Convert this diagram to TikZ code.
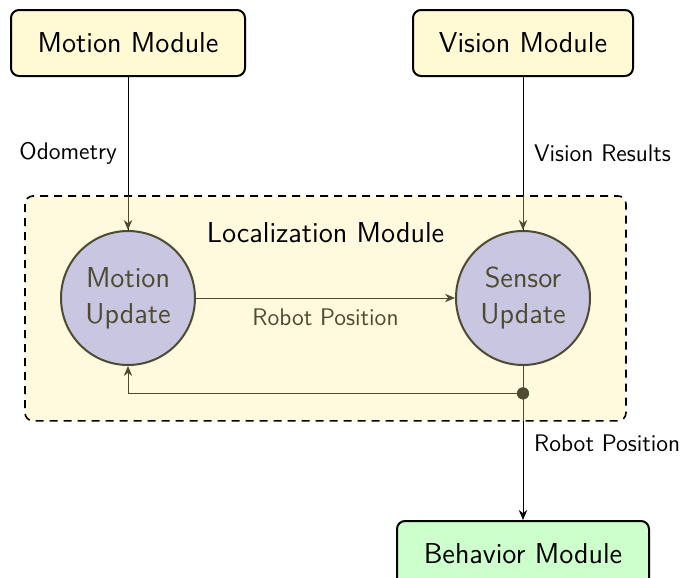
\documentclass[tikz,border=0pt]{standalone}
\RequirePackage{xcolor}
\definecolor{modyellow}{RGB}{255,249,212}
\definecolor{locyellow}{RGB}{255,250,222}
\definecolor{updlilac}{RGB}{200,198,224}
\definecolor{locolive}{RGB}{78,75,50}
\definecolor{modgreen}{RGB}{204,255,204}
\tikzset{every picture/.style={/utils/exec={\sffamily}}}
\usetikzlibrary{calc}
\usetikzlibrary{positioning}
\usetikzlibrary{backgrounds}
\usetikzlibrary{arrows.meta}
\tikzset{node distance=76.5pt, % Gap between the outer modules and the updates
  every node/.style={align=center},
         module/.style={ % Sets the properties for each outer module
           draw, line width=1pt, rounded corners=4pt,
           fill=modyellow, font=\Large,
           minimum height=33pt},
         update/.style={ % Steps inside the localization module
           circle, draw=locolive, text=locolive, line width=1pt,
           fill=updlilac, font=\Large,
           minimum size=67pt, inner sep=1pt},
         junction/.style={circle, fill=locolive, inner sep=0pt, minimum size=6pt},
         locbox/.style={draw, line width=0.8pt, dash pattern=on 4pt off 3pt,
           rounded corners=4pt, fill=locyellow},
         wire/.style={draw, line width=0.5pt,
           >={Stealth[length=5pt, width=4.2pt, inset=1.6pt]}},
         flow/.style={wire, ->, locolive},
         flowtext/.style={font=\large}}

\begin{document}
\begin{tikzpicture}
  \useasboundingbox (0,0) rectangle (343.5pt,-289pt);

  \node [module, minimum width=117pt] (mm) at (64pt,-21.5pt) {Motion Module};
  \node [module, minimum width=110pt] (vm) at (261.5pt,-21.5pt) {Vision Module};

  \node [update, below=of mm] (mu) {Motion\\ Update};
  \node [update, below=of vm] (su) {Sensor\\ Update};
  \node [junction, below=10.5pt of su] (jn) {};
  \node [module, fill=modgreen, minimum width=126pt, below=77pt of su] (bm) {Behavior Module};

  % localization module frame
  \coordinate (lnw) at ($(mu.west |- mu.north)+(-17.5pt,17pt)$);
  \coordinate (lse) at ($(su.east |- jn.south)+(17.5pt,-10.5pt)$);
  \begin{scope}[on background layer]
    \draw [locbox] (lnw) rectangle (lse);
  \end{scope}
  \node [font=\Large] (lt) at ($(mu.north)!0.5!(su.north)+(0,-1.5pt)$) {Localization Module};

  % inputs
  \draw [wire] (mm) -- node [left=2pt, flowtext] {Odometry} (mu);
  \draw [flow] (mm |- lnw) -- (mu);
  \draw [wire] (vm) -- node [right=2pt, flowtext] {Vision Results} (su);
  \draw [flow] (vm |- lnw) -- (su);

  % inside the loop
  \draw [flow] (mu) -- node [below=2pt, flowtext, text=locolive] {Robot Position} (su);
  \draw [flow] (jn.center) -| (mu);

  % output
  \draw [wire, ->] (su) -- node [right=2pt, flowtext] {Robot Position} (bm);
  \draw [wire, locolive] (su) -- (su |- lse);
  \node [junction] at (jn) {};
\end{tikzpicture}
\end{document}
